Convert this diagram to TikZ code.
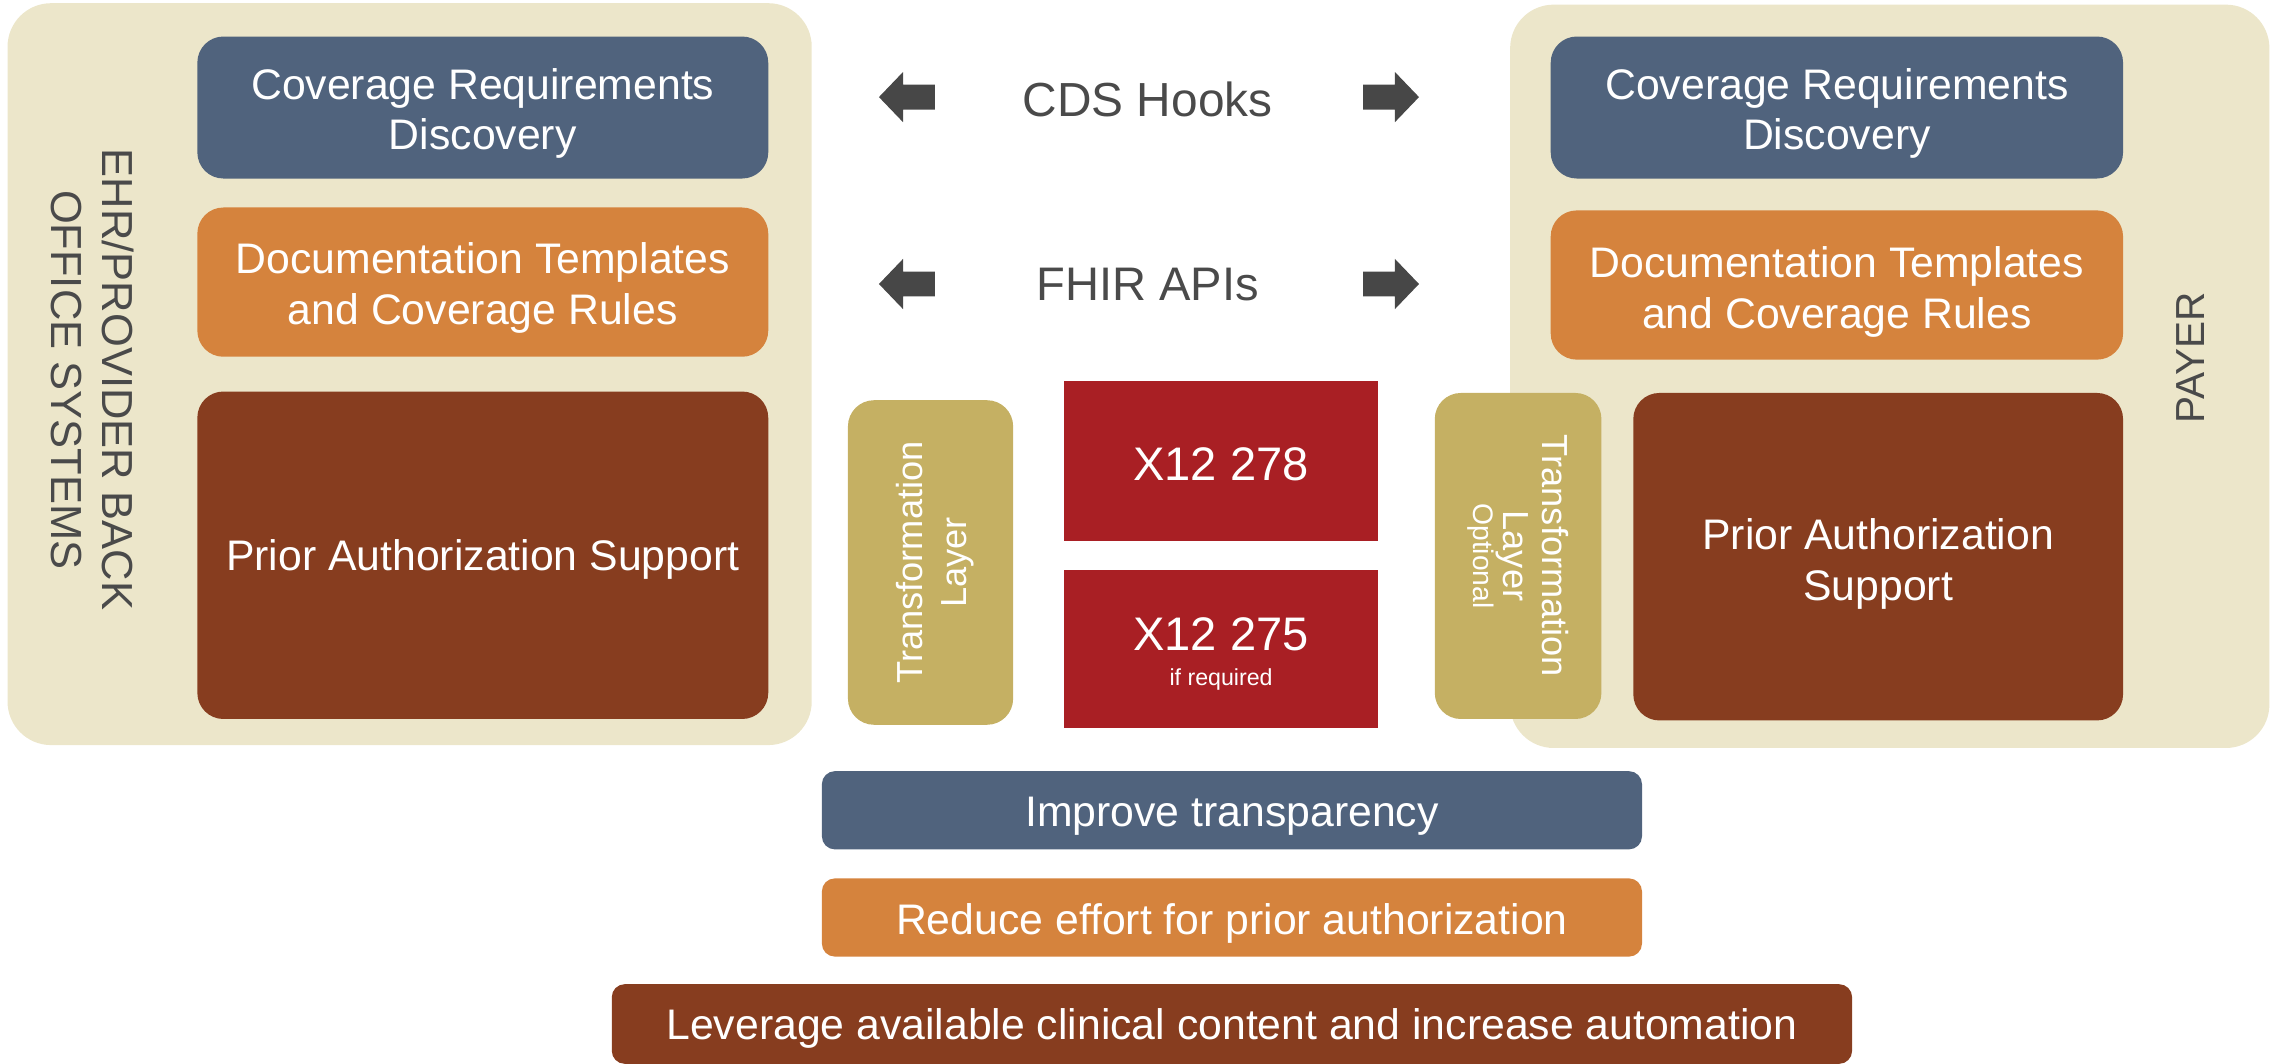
\documentclass[tikz,border=0pt]{standalone}
\usepackage{fontspec}
\setmainfont{Liberation Sans}
\definecolor{panelbg}{HTML}{ECE6CA}
\definecolor{slate}{HTML}{50637D}
\definecolor{ochre}{HTML}{D5833D}
\definecolor{rust}{HTML}{873D1F}
\definecolor{khaki}{HTML}{C5B063}
\definecolor{crimson}{HTML}{A91F24}
\definecolor{arrowgray}{HTML}{474747}
\definecolor{labelgray}{HTML}{4A4A4A}
\newcommand{\fs}[2]{\fontsize{#1}{#2}\selectfont}
% invisible strut that raises the top of the first line, lowering the centred text a little
\newcommand{\up}[1]{\rule{0pt}{#1}}
\begin{document}
\begin{tikzpicture}[x=1pt,y=-1pt,
  panel/.style={fill=panelbg, rounded corners=30pt, inner sep=0pt, anchor=north west},
  box/.style={rounded corners=18pt, inner sep=0pt, anchor=north west, align=center,
    text=white, font=\fs{29.5}{35}},
  bar/.style={rounded corners=9pt, inner sep=0pt, anchor=north west, align=center,
    text=white, font=\fs{29.5}{35}},
  xbox/.style={fill=crimson, inner sep=0pt, anchor=north west, align=center,
    text=white, font=\fs{32.5}{39}},
  sidelabel/.style={text=labelgray, align=center, inner sep=0pt},
  pics/leftarrow/.style={code={
    \fill[arrowgray] (0,0) -- (16.6,-17.3) -- (16.6,-8.6) -- (38.6,-8.6) -- (38.6,8.6) -- (16.6,8.6) -- (16.6,17.3) -- cycle;}},
  pics/rightarrow/.style={code={
    \fill[arrowgray] (0,0) -- (-16.6,-17.3) -- (-16.6,-8.6) -- (-38.6,-8.6) -- (-38.6,8.6) -- (-16.6,8.6) -- (-16.6,17.3) -- cycle;}}
]
\useasboundingbox (0,0) rectangle (1568,734);

% provider side
\node[panel, minimum width=555pt, minimum height=512pt] (lpanel) at (5,2) {};
\node[sidelabel, rotate=-90, font=\fs{30}{35}] (lname) at (64,262) {EHR/PROVIDER BACK\\OFFICE SYSTEMS};
\node[box, fill=slate, minimum width=394pt, minimum height=98pt] (lcrd) at (136,25) {\up{29.6pt}Coverage Requirements\\Discovery};
\node[box, fill=ochre, minimum width=394pt, minimum height=103pt] (ldoc) at (136,143) {\up{29.5pt}Documentation Templates\\and Coverage Rules};
\node[box, fill=rust, minimum width=394pt, minimum height=226pt] (lpas) at (136,270) {\up{27.5pt}Prior Authorization Support};

% payer side
\node[panel, minimum width=524pt, minimum height=513pt] (rpanel) at (1042,3) {};
\node[sidelabel, rotate=90, font=\fs{28}{34}] (rname) at (1512,247) {PAYER};
\node[box, fill=slate, minimum width=395pt, minimum height=98pt] (rcrd) at (1070,25) {\up{29.6pt}Coverage Requirements\\Discovery};
\node[box, fill=ochre, minimum width=395pt, minimum height=103pt] (rdoc) at (1070,145) {\up{30.5pt}Documentation Templates\\and Coverage Rules};
\node[box, fill=rust, minimum width=338pt, minimum height=226pt] (rpas) at (1127,271) {\up{31.5pt}Prior Authorization\\Support};

% exchange channels
\node[text=labelgray, font=\fs{33}{40}, inner sep=0pt] (cds) at (792,68.5) {CDS Hooks};
\node[text=labelgray, font=\fs{32.5}{39}, inner sep=0pt] (fhir) at (792,196.5) {FHIR APIs};
\pic at (606.6,67) {leftarrow};
\pic at (979.3,67) {rightarrow};
\pic at (606.6,196) {leftarrow};
\pic at (979.3,196) {rightarrow};

% transformation layers and X12 transactions
\node[box, fill=khaki, minimum width=114pt, minimum height=224pt] (ltl) at (585,276) {};
\node[rotate=90, text=white, align=center, inner sep=0pt, font=\fs{25}{30}] (ltltext) at (ltl.center) {\up{24.2pt}Transformation\\Layer};
\node[box, fill=khaki, minimum width=115pt, minimum height=225pt] (rtl) at (990,271) {};
\node[rotate=-90, text=white, align=center, inner sep=0pt, font=\fs{25}{27}] (rtltext) at (rtl.center) {Transformation\\Layer\\[-5.8pt]{\fs{19.5}{22}Optional}};
\node[xbox, minimum width=217pt, minimum height=110pt] (x278) at (734,263) {\up{27.3pt}X12 278};
\node[xbox, minimum width=217pt, minimum height=109pt] (x275) at (734,393) {\up{29.7pt}X12 275\\[-15pt]{\fs{16}{19}if required}};

% goals
\node[bar, fill=slate, minimum width=566pt, minimum height=54pt] (goal1) at (567,532) {\up{29.1pt}Improve transparency};
\node[bar, fill=ochre, minimum width=566pt, minimum height=54pt] (goal2) at (567,606) {\up{29.5pt}Reduce effort for prior authorization};
\node[bar, fill=rust, minimum width=856pt, minimum height=55pt] (goal3) at (422,679) {\up{27.5pt}Leverage available clinical content and increase automation};
\end{tikzpicture}
\end{document}
